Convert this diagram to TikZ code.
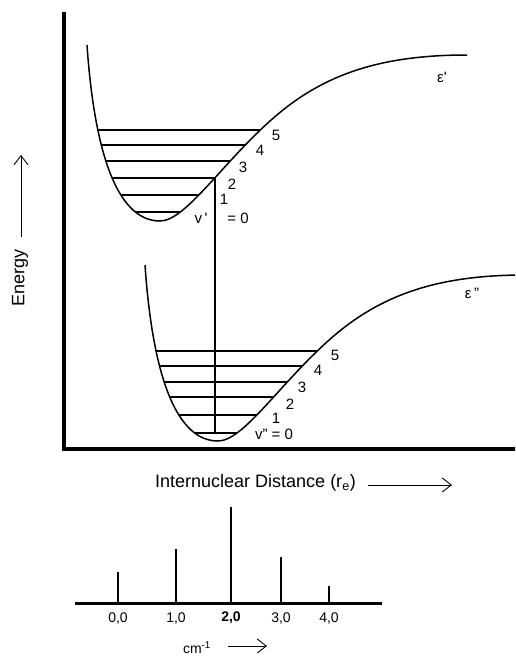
\documentclass[tikz,border=0pt]{standalone}
\usepackage{fontspec}
\setmainfont{Liberation Sans}
\usetikzlibrary{arrows.meta}
\begin{document}
\begin{tikzpicture}[x=1pt,y=1pt,
  curve/.style={line width=1.5pt},
  level/.style={line width=1.1pt},
  axis/.style={line width=3.5pt},
  arr/.style={line width=0.9pt,-{Straight Barb[length=9pt,width=14pt]}},
  lbl/.style={inner sep=0pt,font=\fontsize{15}{18}\selectfont},
  big/.style={inner sep=0pt,font=\fontsize{18}{21}\selectfont},
  spec/.style={inner sep=0pt,font=\fontsize{14}{17}\selectfont},
  line/.style={line width=1.4pt}]
\useasboundingbox (0,0) rectangle (515,-656);
\clip (0,0) rectangle (515,-656);
\def\well{(-73,176) .. controls (-65,60) and (-40,0) .. (0,0) .. controls (25,0) and (60,55) .. (110,100) .. controls (160,145) and (217,166) .. (307,166)}
% axes
\coordinate (ytop) at (64,-12);
\coordinate (orig) at (64,-449);
\coordinate (xend) at (516,-449);
\draw[axis] (ytop) -- (orig) -- (xend);
% upper well
\begin{scope}[shift={(160,-221)}]
  \draw[curve] \well;
  \begin{scope}
    \clip \well -- cycle;
    \foreach \h in {9,26,43,60,76,91} \draw[level] (-100,\h) -- (200,\h);
  \end{scope}
  \coordinate (u2) at (55,43);
\end{scope}
% lower well
\begin{scope}[shift={(218,-441)}]
  \draw[curve] \well;
  \begin{scope}
    \clip \well -- cycle;
    \foreach \h in {8,26,44,59,75,90} \draw[level] (-100,\h) -- (200,\h);
  \end{scope}
\end{scope}
\coordinate (l0) at (215,-433);
\draw[level] (u2) -- (l0);
% upper labels
\node[lbl] (u5) at (276,-135) {5};
\node[lbl] (u4) at (260,-150) {4};
\node[lbl] (u3) at (243,-167) {3};
\node[lbl] (u2l) at (232,-184) {2};
\node[lbl] (u1) at (224,-199) {1};
\node[lbl] (uv) at (201,-218) {v\,\textquotesingle};
\node[lbl] (u0) at (238,-218) {= 0};
\node[lbl] (eps1) at (442,-77) {ε\textquotesingle};
% lower labels
\node[lbl] (l5) at (335,-355) {5};
\node[lbl] (l4) at (318,-370) {4};
\node[lbl] (l3) at (302,-387) {3};
\node[lbl] (l2) at (290,-404) {2};
\node[lbl] (l1) at (276,-418) {1};
\node[lbl] (lv) at (274,-434) {v" = 0};
\node[lbl] (eps2) at (472,-293) {ε\,"};
% axis labels
\node[big,rotate=90] (energy) at (20,-278) {Energy};
\coordinate (ea) at (21,-237);
\coordinate (eb) at (21,-155);
\draw[arr] (ea) -- (eb);
\node[big,anchor=west] (dist) at (155,-483) {Internuclear Distance (r\textsubscript{e})};
\coordinate (da) at (368,-485);
\coordinate (db) at (452,-485);
\draw[arr] (da) -- (db);
% spectrum
\coordinate (sa) at (75,-603);
\coordinate (sb) at (382,-603);
\draw[line width=3pt] (sa) -- (sb);
\foreach \x/\t/\n in {118/572/s0,176/549/s1,231/507/s2,281/557/s3,329/586/s4}{
  \coordinate (\n b) at (\x,-603);
  \coordinate (\n t) at (\x,-\t);
  \draw[line] (\n b) -- (\n t);
}
\node[spec] (t0) at (118,-618) {0,0};
\node[spec] (t1) at (176,-618) {1,0};
\node[spec] (t2) at (231,-618) {\bfseries 2,0};
\node[spec] (t3) at (281,-618) {3,0};
\node[spec] (t4) at (329,-618) {4,0};
\node[spec] (cm) at (197,-648) {cm\textsuperscript{-1}};
\coordinate (ca) at (228,-646);
\coordinate (cb) at (267,-646);
\draw[arr] (ca) -- (cb);
\end{tikzpicture}
\end{document}
